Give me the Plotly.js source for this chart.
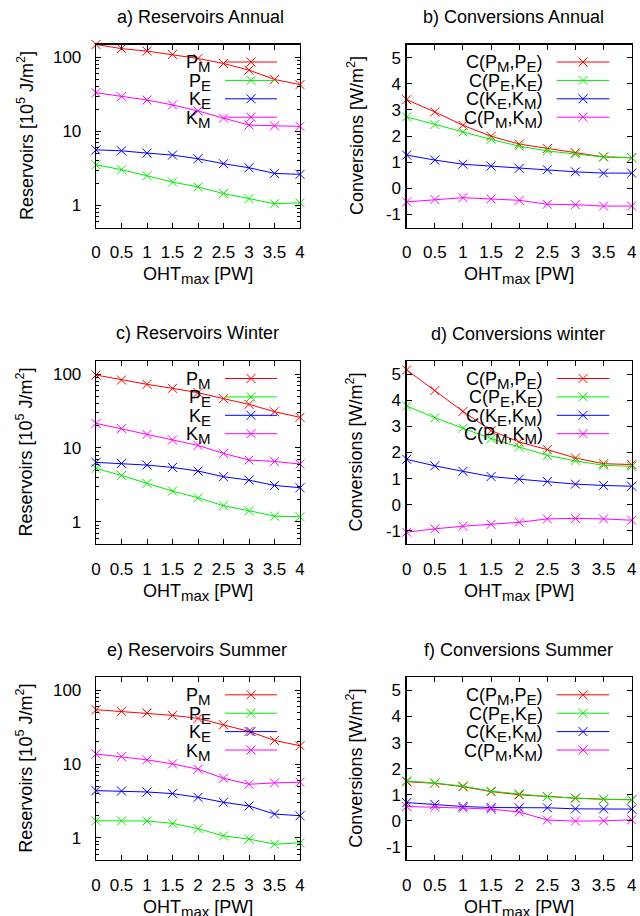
<!DOCTYPE html>
<html>
<head>
<meta charset="utf-8">
<script src="https://cdn.plot.ly/plotly-3.0.1.min.js"></script>
<style>html,body{margin:0;padding:0;background:#fff;}#chart{width:640px;height:916px;}</style>
</head>
<body>
<div id="chart"></div>
<script>
// ---------- data ----------
const OHT = [0, 0.5, 1, 1.5, 2, 2.5, 3, 3.5, 4];
const xTickText = ['0', '0.5', '1', '1.5', '2', '2.5', '3', '3.5', '4'];

const SUB = t => '<sub><span style="font-size:15px">' + t + '</span></sub>';
const resNames = ['P' + SUB('M'), 'P' + SUB('E'), 'K' + SUB('E'), 'K' + SUB('M')];
const convNames = ['C(P' + SUB('M') + ',P' + SUB('E') + ')', 'C(P' + SUB('E') + ',K' + SUB('E') + ')',
                   'C(K' + SUB('E') + ',K' + SUB('M') + ')', 'C(P' + SUB('M') + ',K' + SUB('M') + ')'];

// a) Reservoirs Annual [10^5 J/m^2]
const resAnn_PM = [150, 132, 122, 110, 97, 83, 67.5, 50.5, 43];
const resAnn_PE = [3.53, 3.03, 2.51, 2.06, 1.77, 1.44, 1.23, 1.05, 1.08];
const resAnn_KE = [5.63, 5.46, 5.08, 4.78, 4.26, 3.65, 3.22, 2.70, 2.62];
const resAnn_KM = [33.4, 29.5, 26.6, 22.8, 18.9, 15.1, 12.2, 11.9, 11.7];

// b) Conversions Annual [W/m^2]
const convAnn_PMPE = [3.39, 2.92, 2.41, 1.99, 1.69, 1.52, 1.36, 1.20, 1.17];
const convAnn_PEKE = [2.73, 2.44, 2.15, 1.87, 1.61, 1.43, 1.31, 1.20, 1.17];
const convAnn_KEKM = [1.27, 1.08, 0.92, 0.85, 0.76, 0.71, 0.63, 0.58, 0.58];
const convAnn_PMKM = [-0.52, -0.43, -0.36, -0.41, -0.46, -0.61, -0.63, -0.68, -0.68];

// c) Reservoirs Winter
const resWin_PM = [96.9, 82.9, 72.5, 64, 55.9, 46.4, 38.8, 30.9, 25.9];
const resWin_PE = [5.27, 4.24, 3.31, 2.60, 2.11, 1.65, 1.41, 1.19, 1.17];
const resWin_KE = [6.37, 6.17, 5.85, 5.44, 4.86, 4.07, 3.66, 3.10, 2.89];
const resWin_KM = [21.5, 18.2, 15.2, 12.8, 10.8, 8.42, 6.84, 6.56, 6.04];

// d) Conversions winter
const convWin_PMPE = [5.16, 4.37, 3.57, 2.84, 2.40, 2.11, 1.79, 1.57, 1.54];
const convWin_PEKE = [3.78, 3.33, 2.93, 2.53, 2.21, 1.89, 1.68, 1.51, 1.47];
const convWin_KEKM = [1.74, 1.49, 1.28, 1.08, 0.98, 0.89, 0.79, 0.74, 0.71];
const convWin_PMKM = [-1.05, -0.92, -0.82, -0.75, -0.67, -0.54, -0.52, -0.54, -0.59];

// e) Reservoirs Summer
const resSum_PM = [54.6, 51.8, 49.2, 45.7, 41.6, 34.1, 27.7, 20.9, 17.7];
const resSum_PE = [1.70, 1.70, 1.69, 1.57, 1.33, 1.06, 0.96, 0.82, 0.855];
const resSum_KE = [4.36, 4.31, 4.18, 3.97, 3.54, 3.03, 2.70, 2.10, 1.99];
const resSum_KM = [13.7, 12.6, 11.4, 10.05, 8.5, 6.42, 5.32, 5.55, 5.67];

// f) Conversions Summer
const convSum_PMPE = [1.50, 1.44, 1.31, 1.12, 1.00, 0.93, 0.87, 0.83, 0.81];
const convSum_PEKE = [1.53, 1.45, 1.33, 1.14, 1.03, 0.93, 0.87, 0.82, 0.81];
const convSum_KEKM = [0.70, 0.63, 0.55, 0.51, 0.50, 0.50, 0.46, 0.46, 0.45];
const convSum_PMKM = [0.55, 0.53, 0.49, 0.45, 0.34, 0.03, -0.01, 0.00, 0.04];

const logTickVals = [1, 10, 100];
const logTickText = ['1', '10', '100'];
const linTickVals = [-1, 0, 1, 2, 3, 4, 5];
const linTickText = ['-1', '0', '1', '2', '3', '4', '5'];

const colors = ['#ff0000', '#00ee00', '#0000ff', '#ff00ff'];

// ---------- layout helpers ----------
const W = 640, H = 916;
const px = v => v / W;
const py = v => 1 - v / H;
const FONT = 'Liberation Sans, Arial, Helvetica, sans-serif';

const cols = [
  {left: 96, right: 300, textRight: 213, lineL: 225, lineR: 277, mark: 251, ytx: 25},
  {left: 406.7, right: 631.7, textRight: 545, lineL: 556.7, lineR: 609.3, mark: 583, ytx: 355}
];
const rows = [
  {top: 44.5, bottom: 227.5},
  {top: 361, bottom: 544},
  {top: 677.3, bottom: 860}
];

const panels = [
  {title: 'a) Reservoirs Annual', tx: 200, ty: 17, c: 0, r: 0, log: true, data: [resAnn_PM, resAnn_PE, resAnn_KE, resAnn_KM]},
  {title: 'b) Conversions Annual', tx: 513, ty: 17, c: 1, r: 0, log: false, data: [convAnn_PMPE, convAnn_PEKE, convAnn_KEKM, convAnn_PMKM]},
  {title: 'c) Reservoirs Winter', tx: 197, ty: 333, c: 0, r: 1, log: true, data: [resWin_PM, resWin_PE, resWin_KE, resWin_KM]},
  {title: 'd) Conversions winter', tx: 518, ty: 334, c: 1, r: 1, log: false, data: [convWin_PMPE, convWin_PEKE, convWin_KEKM, convWin_PMKM]},
  {title: 'e) Reservoirs Summer', tx: 197, ty: 650, c: 0, r: 2, log: true, data: [resSum_PM, resSum_PE, resSum_KE, resSum_KM]},
  {title: 'f) Conversions Summer', tx: 518, ty: 650, c: 1, r: 2, log: false, data: [convSum_PMPE, convSum_PEKE, convSum_KEKM, convSum_PMKM]}
];

const minorLog = [];
[0.1, 1, 10, 100].forEach(d => { for (let k = 2; k <= 9; k++) minorLog.push(d * k); });

const traces = [];
const layout = {
  width: W, height: H,
  margin: {l: 0, r: 0, t: 0, b: 0},
  paper_bgcolor: '#fff', plot_bgcolor: '#fff',
  font: {family: FONT, size: 17, color: '#000'},
  showlegend: false,
  annotations: [], shapes: []
};

panels.forEach((p, i) => {
  const n = i + 1;
  const xa = 'x' + (n === 1 ? '' : n), ya = 'y' + (n === 1 ? '' : n);
  const xk = 'xaxis' + (n === 1 ? '' : n), yk = 'yaxis' + (n === 1 ? '' : n);
  const col = cols[p.c], row = rows[p.r];

  layout[xk] = {
    domain: [px(col.left), px(col.right)], anchor: ya, range: [0, 4],
    tickmode: 'array', tickvals: OHT, ticktext: xTickText, tickangle: 0,
    ticks: 'inside', ticklen: 5, tickwidth: 1, tickcolor: '#000',
    showline: true, linecolor: '#000', linewidth: 1.3, mirror: 'allticks',
    showgrid: false, zeroline: false, fixedrange: true,
    tickfont: {size: 17}, ticklabelstandoff: 9
  };
  const yax = {
    domain: [py(row.bottom), py(row.top)], anchor: xa,
    ticks: 'inside', ticklen: 5, tickwidth: 1, tickcolor: '#000',
    showline: true, linecolor: '#000', linewidth: 1.3, mirror: 'allticks',
    showgrid: false, zeroline: false, fixedrange: true, tickmode: 'array',
    tickfont: {size: 17}
  };
  if (p.log) {
    Object.assign(yax, {
      type: 'log', range: [Math.log10(0.5), Math.log10(150)],
      tickvals: logTickVals, ticktext: logTickText, ticklabelstandoff: 10,
      minor: {tickmode: 'array', tickvals: minorLog, ticks: 'inside', ticklen: 3, tickwidth: 1, tickcolor: '#000', showgrid: false}
    });
  } else {
    Object.assign(yax, {
      type: 'linear', range: [-1.5, 5.5],
      tickvals: linTickVals, ticktext: linTickText, ticklabelstandoff: 1
    });
  }
  layout[yk] = yax;

  const names = p.log ? resNames : convNames;
  p.data.forEach((vals, s) => {
    traces.push({
      type: 'scatter', mode: 'lines+markers', x: OHT, y: vals,
      xaxis: xa, yaxis: ya, name: names[s], cliponaxis: false,
      line: {color: colors[s], width: 1},
      marker: {symbol: 'x-thin-open', size: 9, color: colors[s], line: {color: colors[s], width: 1}},
      hoverinfo: 'skip'
    });
    // legend key (text left, sample right, gnuplot style)
    const ly = row.top + 17.5 + 18.4 * s;
    layout.annotations.push({
      xref: 'paper', yref: 'paper', x: px(col.textRight), y: py(ly + 2),
      xanchor: 'right', yanchor: 'middle', showarrow: false, text: names[s],
      font: {size: 18}
    });
    layout.shapes.push({
      type: 'line', xref: 'paper', yref: 'paper',
      x0: px(col.lineL), x1: px(col.lineR), y0: py(ly), y1: py(ly),
      line: {color: colors[s], width: 1}
    });
    const m = col.mark, h = 4.5;
    layout.shapes.push({
      type: 'path', xref: 'paper', yref: 'paper',
      path: `M ${px(m - h)} ${py(ly - h)} L ${px(m + h)} ${py(ly + h)} M ${px(m - h)} ${py(ly + h)} L ${px(m + h)} ${py(ly - h)}`,
      line: {color: colors[s], width: 1}
    });
  });

  // panel title
  layout.annotations.push({
    xref: 'paper', yref: 'paper', x: px(p.tx), y: py(p.ty),
    xanchor: 'center', yanchor: 'middle', showarrow: false, text: p.title,
    font: {size: 18}
  });
  // x-axis title
  layout.annotations.push({
    xref: 'paper', yref: 'paper', x: px((col.left + col.right) / 2), y: py(row.bottom + 48),
    xanchor: 'center', yanchor: 'middle', showarrow: false,
    text: 'OHT' + SUB('max') + ' [PW]', font: {size: 18}
  });
  // y-axis title
  layout.annotations.push({
    xref: 'paper', yref: 'paper', x: px(col.ytx), y: py((row.top + row.bottom) / 2),
    xanchor: 'center', yanchor: 'middle', showarrow: false, textangle: -90,
    text: p.log ? 'Reservoirs [10<sup>5</sup> J/m<sup>2</sup>]' : 'Conversions [W/m<sup>2</sup>]',
    font: {size: 18}
  });
});

Plotly.newPlot('chart', traces, layout, {staticPlot: true, displayModeBar: false});
</script>
</body>
</html>
